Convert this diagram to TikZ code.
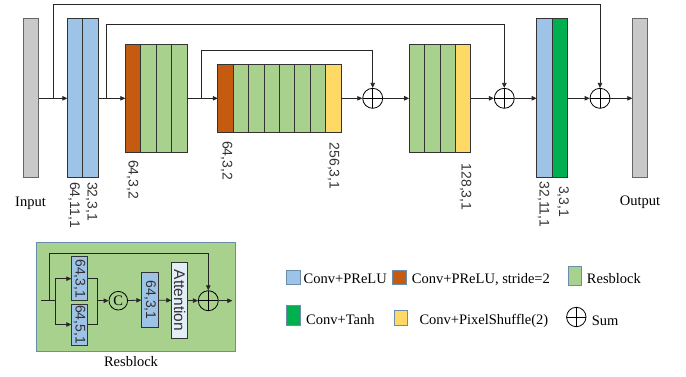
\documentclass[tikz,border=0pt]{standalone}
\usepackage{fontspec}
\setmainfont{Liberation Serif}
\setsansfont{Liberation Sans}
\usetikzlibrary{arrows.meta, positioning, calc}
\definecolor{convblue}{HTML}{9DC3E6}
\definecolor{strideorange}{HTML}{C55A11}
\definecolor{resgreen}{HTML}{A9D18E}
\definecolor{tanhgreen}{HTML}{00B050}
\definecolor{shuffleyellow}{HTML}{FFD966}
\definecolor{iogray}{HTML}{C9C9C9}
\definecolor{attnblue}{HTML}{E4EEF8}
\definecolor{keyedge}{HTML}{6A8DAE}
\tikzset{
  layer/.style={
    rectangle, draw=black!80, line width=0.8pt,
    minimum width=15.4pt, inner sep=0pt, outer sep=0pt
  },
  tallbar/.style={minimum height=159pt},
  midbar/.style={minimum height=108pt},
  shortbar/.style={minimum height=68pt},
  iobar/.style={layer, fill=iogray, draw=black!60},
  prelu/.style={layer, fill=convblue},
  prelus/.style={layer, fill=strideorange},
  resblk/.style={layer, fill=resgreen},
  shuffle/.style={layer, fill=shuffleyellow},
  tanhc/.style={layer, fill=tanhgreen},
  sumnode/.style={
    circle, draw=black, line width=0.8pt, minimum size=20pt, inner sep=0pt,
    path picture={\draw[line width=0.8pt]
      (path picture bounding box.north) -- (path picture bounding box.south)
      (path picture bounding box.west) -- (path picture bounding box.east);}
  },
  cfg/.style={
    rotate=-90, anchor=west, inner sep=0pt,
    font=\sffamily\fontsize{14}{14}\selectfont, text=black!80
  },
  rconv/.style={
    rectangle, draw=black!80, fill=convblue, line width=0.8pt, rotate=-90,
    minimum height=16pt, inner sep=0pt,
    font=\sffamily\fontsize{14}{14}\selectfont, text=black!80
  },
  txt/.style={inner sep=0pt, font=\fontsize{14.5}{16}\selectfont},
  keybox/.style={
    rectangle, draw=keyedge, line width=0.8pt,
    minimum width=14pt, minimum height=14.5pt, inner sep=0pt
  },
  arrow/.style={line width=0.8pt, -{Triangle[length=5pt, width=4.5pt]}, color=black!85},
  wire/.style={line width=0.8pt, color=black!85},
}
\begin{document}
\begin{tikzpicture}[x=1pt, y=-1pt]
  \useasboundingbox (0,0) rectangle (686,376);

  % main network
  \node (in)  [iobar, tallbar] at (31,98.3) {};
  \node (p1)  [prelu, tallbar] at (75,98.3) {};
  \node (p2)  [prelu, tallbar, right=0pt of p1] {};

  \node (down1-0) [prelus, midbar] at (133,98.3) {};
  \foreach \i [remember=\i as \j (initially 0)] in {1,2,3}
    \node (down1-\i) [resblk, midbar, right=0pt of down1-\j] {};

  \node (up1-0) [prelus, shortbar] at (225.5,98.3) {};
  \foreach \i [remember=\i as \j (initially 0)] in {1,...,6}
    \node (up1-\i) [resblk, shortbar, right=0pt of up1-\j] {};
  \node (up1-7) [shuffle, shortbar, right=0pt of up1-6] {};

  \node (up2-1) [resblk, midbar] at (416.8,98.3) {};
  \foreach \i [remember=\i as \j (initially 1)] in {2,3}
    \node (up2-\i) [resblk, midbar, right=0pt of up2-\j] {};
  \node (up2-4) [shuffle, midbar, right=0pt of up2-3] {};

  \node (o1)  [prelu, tallbar] at (544.3,98.3) {};
  \node (o2)  [tanhc, tallbar, right=0pt of o1] {};
  \node (out) [iobar, tallbar] at (640,98.3) {};

  \node (sum1) [sumnode] at (372.7,98.3) {};
  \node (sum2) [sumnode] at (504.3,98.3) {};
  \node (sum3) [sumnode] at (600,98.3) {};

  \coordinate (k1) at (53.3,98.3);
  \coordinate (k2) at (106.5,98.3);
  \coordinate (k3) at (201.3,98.3);

  \draw [arrow] (in)      -- (p1);
  \draw [arrow] (p2)      -- (down1-0);
  \draw [arrow] (down1-3) -- (up1-0);
  \draw [arrow] (up1-7)   -- (sum1);
  \draw [arrow] (sum1)    -- (up2-1);
  \draw [arrow] (up2-4)   -- (sum2);
  \draw [arrow] (sum2)    -- (o1);
  \draw [arrow] (o2)      -- (sum3);
  \draw [arrow] (sum3)    -- (out);

  % skip connections
  \draw [arrow] (k1) -- ++(0,-94) -| (sum3);
  \draw [arrow] (k2) -- ++(0,-74.3) -| (sum2);
  \draw [arrow] (k3) -- ++(0,-48.3) -| (sum1);

  % layer settings
  \node (l-p1)  [cfg] at (74,182)    {64,11,1};
  \node (l-p2)  [cfg] at (91.5,182)  {32,3,1};
  \node (l-d1)  [cfg] at (132.5,160) {64,3,2};
  \node (l-u1)  [cfg] at (226.5,141) {64,3,2};
  \node (l-u1y) [cfg] at (333.5,142.5) {256,3,1};
  \node (l-u2y) [cfg] at (465.5,163.5) {128,3,1};
  \node (l-o1)  [cfg] at (543.5,181.5) {32,11,1};
  \node (l-o2)  [cfg] at (563,186)   {3,3,1};

  \node (intxt)  [txt, anchor=base] at (30.5,206) {Input};
  \node (outtxt) [txt, anchor=base] at (640,205)  {Output};

  % resblock detail
  \node (rb) [rectangle, draw=keyedge, line width=0.8pt, fill=resgreen,
              minimum width=198.3pt, minimum height=108.3pt] at (135.8,296.8) {};
  \node (rbtxt) [txt, anchor=base] at (131,366.5) {Resblock};

  \node (r1)  [rconv, minimum width=44pt] at (79.7,278.7) {64,3,1};
  \node (r2)  [rconv, minimum width=41pt] at (79.7,324.5) {64,5,1};
  \node (cat) [circle, draw, line width=0.8pt, minimum size=18.6pt, inner sep=0pt,
               font=\fontsize{14.5}{16}\selectfont] at (118.3,300.7) {C};
  \node (r3)  [rconv, minimum width=55.4pt, minimum height=16.6pt] at (150,300) {64,3,1};
  \node (att) [rconv, fill=attnblue, minimum width=75.6pt,
               font=\sffamily\fontsize{15.5}{16}\selectfont] at (179.7,300.5) {Attention};
  \node (rsum) [sumnode] at (208.3,300.7) {};

  \coordinate (rin)    at (41,300.7);
  \coordinate (rskip)  at (49.3,300.7);
  \coordinate (rsplit) at (55.7,300.7);
  \coordinate (rmerge) at (97.3,300.7);
  \coordinate (rout)   at (232.3,300.7);

  \draw [wire]  (rin) -- (rsplit);
  \draw [arrow] (rsplit) |- (r1);
  \draw [arrow] (rsplit) |- (r2);
  \draw [wire]  (r1) -| (rmerge);
  \draw [wire]  (r2) -| (rmerge);
  \draw [arrow] (rmerge) -- (cat);
  \draw [arrow] (cat)  -- (r3);
  \draw [arrow] (r3)   -- (att);
  \draw [arrow] (att)  -- (rsum);
  \draw [arrow] (rsum) -- (rout);
  \draw [arrow] (rskip) -- ++(0,-47.4) -| (rsum);

  % legend
  \node (k-prelu)  [keybox, fill=convblue]     at (293.7,277.2) {};
  \node (t-prelu)  [txt, anchor=base west]     at (303.5,283.3) {Conv+PReLU};
  \node (k-stride) [keybox, fill=strideorange] at (399.2,277.2) {};
  \node (t-stride) [txt, anchor=base west]     at (411.7,283.3) {Conv+PReLU, stride=2};
  \node (k-res)    [keybox, fill=resgreen, minimum width=13pt, minimum height=18.3pt] at (574.7,275.8) {};
  \node (t-res)    [txt, anchor=base west]     at (586.7,283.5) {Resblock};

  \node (k-tanh)   [keybox, fill=tanhgreen, minimum height=20pt] at (293.7,315) {};
  \node (t-tanh)   [txt, anchor=base west]     at (306,324)   {Conv+Tanh};
  \node (k-shuf)   [keybox, fill=shuffleyellow, minimum width=13.7pt, minimum height=15pt] at (400.8,317.5) {};
  \node (t-shuf)   [txt, anchor=base west]     at (419.3,324) {Conv+PixelShuffle(2)};
  \node (k-sum)    [sumnode, minimum size=19.4pt] at (576.3,317) {};
  \node (t-sum)    [txt, anchor=base west]     at (591.7,325) {Sum};
\end{tikzpicture}
\end{document}
